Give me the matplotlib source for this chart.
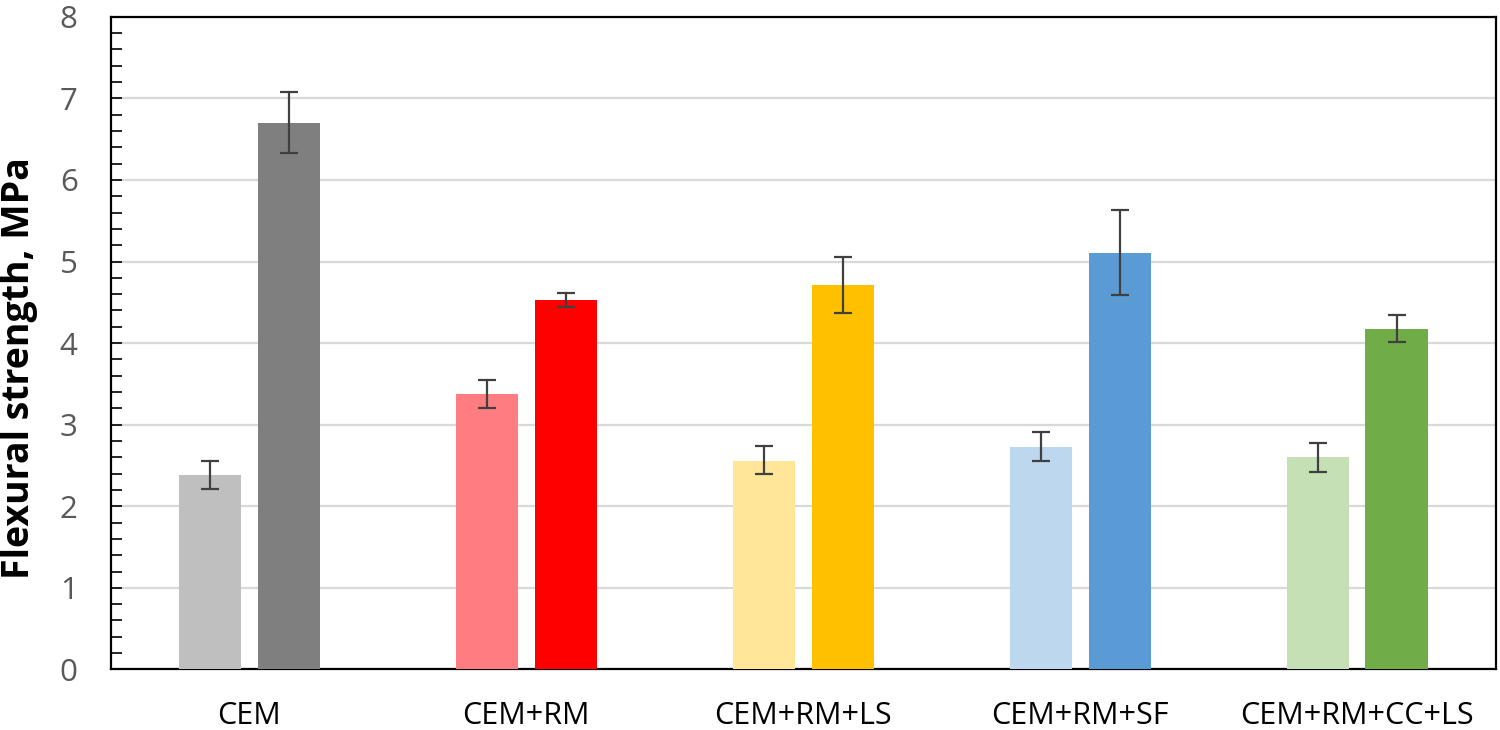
import numpy as np
import matplotlib
matplotlib.use("Agg")
import matplotlib.pyplot as plt
from matplotlib.ticker import MultipleLocator

# mixes, light bar = early age, dark bar = later age
groups = ["CEM", "CEM+RM", "CEM+RM+LS", "CEM+RM+SF", "CEM+RM+CC+LS"]
early = [2.38, 3.37, 2.56, 2.73, 2.60]
early_lo = [2.21, 3.20, 2.39, 2.56, 2.42]
early_hi = [2.56, 3.55, 2.74, 2.91, 2.77]
late = [6.70, 4.53, 4.71, 5.11, 4.17]
late_lo = [6.33, 4.44, 4.37, 4.59, 4.01]
late_hi = [7.08, 4.62, 5.05, 5.63, 4.34]

light_cols = ["#BFBFBF", "#FF7C80", "#FFE699", "#BDD7EE", "#C5E0B4"]
dark_cols = ["#7F7F7F", "#FF0000", "#FFC000", "#5B9BD5", "#70AD47"]

plt.rcParams['font.family'] = ['Open Sans', 'DejaVu Sans']

fig = plt.figure(figsize=(15, 7.3), dpi=100)
ax = fig.add_axes([0.074, 0.083, 0.923, 0.894])

x = np.arange(len(groups))
w = 0.224
off = 0.1425

e1 = np.array(early); e2 = np.array(late)
err1 = [e1 - np.array(early_lo), np.array(early_hi) - e1]
err2 = [e2 - np.array(late_lo), np.array(late_hi) - e2]

ekw = dict(ecolor="#404040", elinewidth=1.6, capthick=1.6)
ax.bar(x - off, e1, w, color=light_cols, yerr=err1, capsize=6.5,
       error_kw=ekw, zorder=3)
ax.bar(x + off, e2, w, color=dark_cols, yerr=err2, capsize=6.5,
       error_kw=ekw, zorder=3)

ax.set_xlim(-0.5, len(groups) - 0.5)
ax.set_ylim(0, 8)
ax.yaxis.set_major_locator(MultipleLocator(1))
ax.yaxis.set_minor_locator(MultipleLocator(0.2))
ax.grid(axis="y", which="major", color="#D9D9D9", lw=1.6, zorder=0)

ax.set_xticks(x)
ax.set_xticklabels(groups, fontsize=22, color="black")
ax.tick_params(axis="x", length=0, pad=23)
ax.tick_params(axis="y", which="both", direction="in", length=8, width=1.2,
               labelsize=22.5, labelcolor="#595959", pad=24)

for s in ax.spines.values():
    s.set_color("black")
    s.set_linewidth(1.6)

ax.set_ylabel("Flexural strength, MPa", fontsize=27, fontweight="bold")
ax.yaxis.set_label_coords(-0.053, 0.462)

fig.savefig("out.png", dpi=100)
